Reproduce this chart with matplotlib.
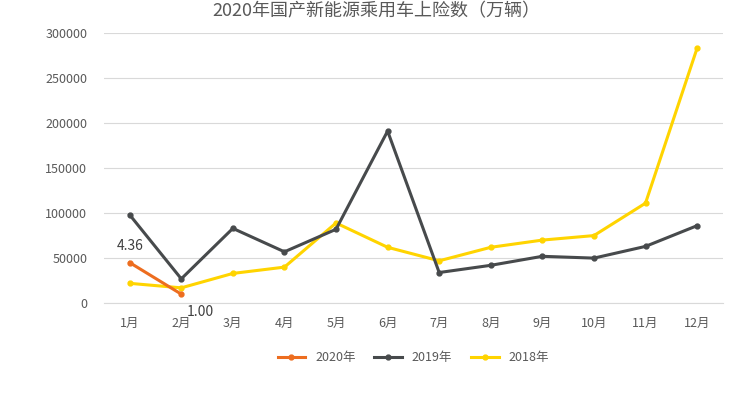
import matplotlib
matplotlib.use("Agg")
import matplotlib.pyplot as plt

plt.rcParams['font.family'] = ['Noto Sans CJK SC', 'DejaVu Sans']

months = ["1月","2月","3月","4月","5月","6月","7月","8月","9月","10月","11月","12月"]
s2020 = [45000, 10000]
s2020_labels = ["4.36", "1.00"]
s2019 = [98000, 27000, 83000, 57000, 82000, 191000, 34000, 42000, 52000, 50000, 63000, 86000]
s2018 = [22000, 17000, 33000, 40000, 89000, 62000, 47000, 62000, 70000, 75000, 111000, 283000]
yticks = [0, 50000, 100000, 150000, 200000, 250000, 300000]

fig = plt.figure(figsize=(7.53, 4.01), dpi=100)
ax = fig.add_axes([0.138, 0.244, 0.822, 0.674])
x = list(range(len(months)))
ax.plot(x[:len(s2020)], s2020, color="#ED6D1F", lw=2.2, marker="o", ms=3.5, label="2020年", zorder=4)
ax.plot(x, s2019, color="#474A4C", lw=2.2, marker="o", ms=3.5, label="2019年", zorder=3)
ax.plot(x, s2018, color="#FFD400", lw=2.2, marker="o", ms=3.5, label="2018年", zorder=2)
ax.annotate(s2020_labels[0], (0, s2020[0]), xytext=(0, 9), textcoords="offset points", ha="center", fontsize=10, color="#404040")
ax.annotate(s2020_labels[1], (1, s2020[1]), xytext=(4, -16), textcoords="offset points", ha="left", fontsize=10, color="#404040")

ax.set_xlim(-0.5, 11.5)
ax.set_ylim(0, 300000)
ax.set_yticks(yticks)
ax.set_yticklabels([str(v) for v in yticks])
ax.set_xticks(x)
ax.set_xticklabels(months)
ax.tick_params(axis="both", length=0, labelsize=9, colors="#595959")
ax.tick_params(axis="x", pad=10)
ax.tick_params(axis="y", pad=12)
ax.grid(axis="y", color="#D9D9D9", lw=0.8)
ax.set_axisbelow(True)
for s in ["top", "right", "left"]:
    ax.spines[s].set_visible(False)
ax.spines["bottom"].set_color("#D9D9D9")

fig.text(0.5, 0.972, "2020年国产新能源乘用车上险数（万辆）", ha="center", va="center", fontsize=13, color="#595959")
ax.legend(loc="upper center", bbox_to_anchor=(0.5, -0.135), ncol=3, frameon=False, fontsize=9,
          labelcolor="#595959", handlelength=2.2, columnspacing=1.5)
fig.savefig("out.png", dpi=100)
